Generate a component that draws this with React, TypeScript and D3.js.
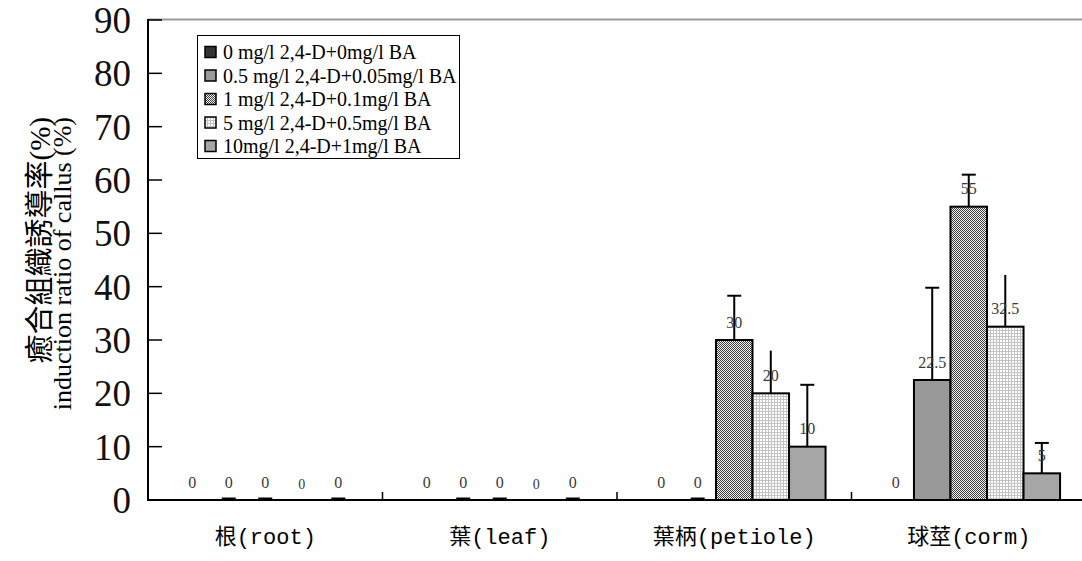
import React from "react";
import * as d3 from "d3";

const categories = ["根(root)", "葉(leaf)", "葉柄(petiole)", "球莖(corm)"];
const seriesNames = [
  "0 mg/l 2,4-D+0mg/l BA",
  "0.5 mg/l 2,4-D+0.05mg/l BA",
  "1 mg/l 2,4-D+0.1mg/l BA",
  "5 mg/l 2,4-D+0.5mg/l BA",
  "10mg/l 2,4-D+1mg/l BA",
];
const s1 = [0, 0, 0, 0];
const s2 = [0, 0, 0, 22.5];
const s3 = [0, 0, 30, 55];
const s4 = [0, 0, 20, 32.5];
const s5 = [0, 0, 10, 5];
const valueLabels1 = ["0", "0", "0", "0"];
const valueLabels2 = ["0", "0", "0", "22.5"];
const valueLabels3 = ["0", "0", "30", "55"];
const valueLabels4 = ["0", "0", "20", "32.5"];
const valueLabels5 = ["0", "0", "10", "5"];
// upper error bar length; null = not drawn
const e1: (number | null)[] = [null, null, null, null];
const e2: (number | null)[] = [0, 0, 0, 17.3];
const e3: (number | null)[] = [0, 0, 8.3, 6];
const e4: (number | null)[] = [0, 0, 8, 9.7];
const e5: (number | null)[] = [0, 0, 11.6, 5.7];
const yTicks = [0, 10, 20, 30, 40, 50, 60, 70, 80, 90];

const seriesValues = [s1, s2, s3, s4, s5];
const seriesLabels = [valueLabels1, valueLabels2, valueLabels3, valueLabels4, valueLabels5];
const seriesErrors = [e1, e2, e3, e4, e5];
const fills = ["#333333", "#999999", "url(#pat3)", "url(#pat4)", "#a6a6a6"];
const caps = [false, true, true, false, true];

const W = 1082;
const H = 561;
const left = 148;
const top = 20;
const bottom = 500;
const right = 1086;

export default function App() {
  const x = d3.scaleBand<string>().domain(categories).range([left, right]).padding(0);
  const xs = d3
    .scaleBand<number>()
    .domain(d3.range(5))
    .range([0, x.bandwidth()])
    .paddingInner(0)
    .paddingOuter(0.71);
  const y = d3.scaleLinear().domain([0, 90]).range([bottom, top]);
  const serif = "'Liberation Serif', 'Times New Roman', serif";
  const mono = "'Liberation Mono', 'Noto Sans CJK TC', monospace";
  const cjk = "'Liberation Serif', 'Noto Sans CJK TC', serif";

  return (
    <div style={{ position: "absolute", left: 0, top: 0 }}>
      <svg width={W} height={H} style={{ display: "block", background: "#fff" }}>
        <defs>
          <pattern id="pat3" width={2} height={2} patternUnits="userSpaceOnUse">
            <rect width={2} height={2} fill="#f0f0f0" />
            <rect width={1} height={1} fill="#404040" />
            <rect x={1} y={1} width={1} height={1} fill="#404040" />
          </pattern>
          <pattern id="pat4" width={3} height={3} patternUnits="userSpaceOnUse">
            <rect width={3} height={3} fill="#ffffff" />
            <rect width={3} height={1} fill="#c4c4c4" />
            <rect width={1} height={3} fill="#c4c4c4" />
          </pattern>
        </defs>

        {/* top border */}
        <line x1={left} x2={W} y1={top - 0.5} y2={top - 0.5} stroke="#9a9a9a" strokeWidth={2} />

        {/* bars */}
        {seriesValues.map((vals, si) =>
          vals.map((v, ci) => {
            const bx = (x(categories[ci]) as number) + (xs(si) as number);
            const bw = xs.bandwidth();
            if (v <= 0) return null;
            return (
              <rect
                key={`b${si}-${ci}`}
                x={bx}
                y={y(v)}
                width={bw}
                height={y(0) - y(v)}
                fill={fills[si]}
                stroke="#000"
                strokeWidth={2}
              />
            );
          })
        )}

        {/* error bars */}
        {seriesErrors.map((errs, si) =>
          errs.map((e, ci) => {
            if (e === null) return null;
            const v = seriesValues[si][ci];
            const cx = (x(categories[ci]) as number) + (xs(si) as number) + xs.bandwidth() / 2;
            return (
              <g key={`e${si}-${ci}`} stroke="#000" strokeWidth={2}>
                {e > 0 && <line x1={cx} x2={cx} y1={y(v)} y2={y(v + e)} />}
                {caps[si] && (
                  <line
                    x1={cx - 7}
                    x2={cx + 7}
                    y1={y(v + e) - (e === 0 ? 1 : 0)}
                    y2={y(v + e) - (e === 0 ? 1 : 0)}
                    strokeWidth={e === 0 ? 3 : 2}
                  />
                )}
              </g>
            );
          })
        )}

        {/* value labels */}
        {seriesValues.map((vals, si) =>
          vals.map((v, ci) => {
            const cx = (x(categories[ci]) as number) + (xs(si) as number) + xs.bandwidth() / 2;
            const small = v === 0 && si === 3;
            return (
              <text
                key={`l${si}-${ci}`}
                x={cx}
                y={y(v) - (small ? 11 : 12.5)}
                textAnchor="middle"
                fontFamily={serif}
                fontSize={small ? 14 : 16}
                fill="#3a3a3a"
              >
                {seriesLabels[si][ci]}
              </text>
            );
          })
        )}

        {/* y axis */}
        <line x1={left} x2={left} y1={top - 1} y2={bottom} stroke="#000" strokeWidth={2} />
        {yTicks.map((t) => (
          <g key={`yt${t}`}>
            <line x1={left} x2={left + 14} y1={y(t)} y2={y(t)} stroke="#000" strokeWidth={1.5} />
            <text
              x={131}
              y={y(t)}
              dy="0.35em"
              textAnchor="end"
              fontFamily={serif}
              fontSize={37}
              fill="#111"
            >
              {t}
            </text>
          </g>
        ))}

        {/* x axis */}
        <line x1={left - 1} x2={W} y1={bottom} y2={bottom} stroke="#000" strokeWidth={2} />
        {categories.slice(1).map((c) => (
          <line
            key={`xt${c}`}
            x1={x(c) as number}
            x2={x(c) as number}
            y1={bottom}
            y2={bottom - 8}
            stroke="#000"
            strokeWidth={1.5}
          />
        ))}
        {categories.map((c) => (
          <text
            key={`xl${c}`}
            x={(x(c) as number) + x.bandwidth() / 2}
            y={544}
            textAnchor="middle"
            fontFamily={mono}
            fontSize={22}
            fill="#000"
          >
            {c}
          </text>
        ))}

        {/* y title */}
        <text
          transform="translate(50,117) rotate(-90)"
          textAnchor="end"
          fontFamily={cjk}
          fontSize={29}
          fill="#000"
        >
          癒合組織誘導率(%)
        </text>
        <text
          transform="translate(71,117) rotate(-90)"
          textAnchor="end"
          fontFamily={serif}
          fontSize={26}
          fill="#000"
        >
          induction ratio of callus (%)
        </text>

        {/* legend */}
        <rect x={197.5} y={35.5} width={262} height={123} fill="#fff" stroke="#000" strokeWidth={1} />
        {seriesNames.map((n, i) => {
          const ry = 52 + i * 23.5;
          return (
            <g key={`lg${i}`}>
              <rect x={205} y={ry - 5.5} width={11} height={11} fill={fills[i]} stroke="#000" strokeWidth={1.5} />
              <text x={223} y={ry} dy="0.35em" fontFamily={serif} fontSize={20} fill="#000">
                {n}
              </text>
            </g>
          );
        })}
      </svg>
    </div>
  );
}
